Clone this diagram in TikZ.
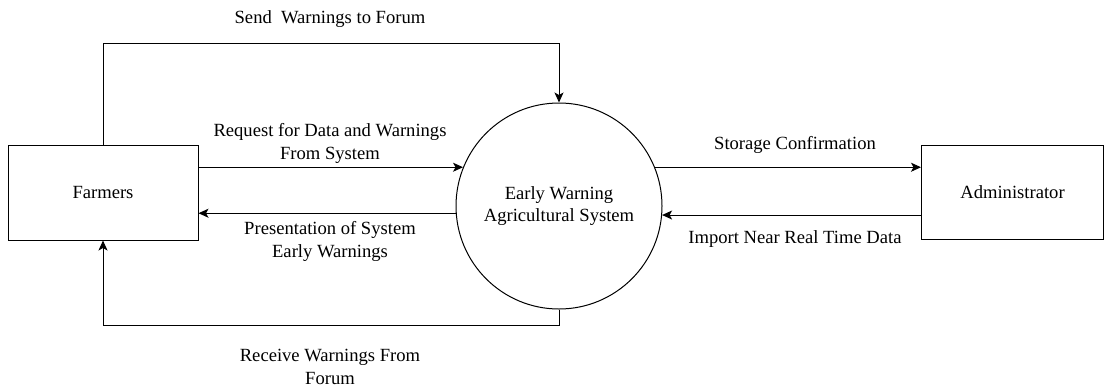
\documentclass[tikz,border=0pt]{standalone}
\usepackage{fontspec}
\setmainfont{Liberation Serif}
\usetikzlibrary{arrows.meta,calc}
\tikzset{
  ent/.style={draw, line width=1pt, rectangle, inner sep=0pt, font=\fontsize{18.6}{22}\selectfont},
  proc/.style={draw, line width=1pt, circle, inner sep=0pt, minimum size=206pt, align=center, font=\fontsize{18.6}{22}\selectfont},
  arr/.style={line width=1pt, -{Stealth[length=10pt,width=9pt,inset=2.5pt]}},
  lbl/.style={align=center, inner sep=0pt, font=\fontsize{18.6}{23}\selectfont}
}
\begin{document}
\begin{tikzpicture}[x=1pt,y=-1pt]
\useasboundingbox[fill=white] (0,0) rectangle (1111,389);
\node[ent, minimum width=190pt, minimum height=95pt] (farmers) at (103,192.5) {Farmers};
\node[ent, minimum width=182pt, minimum height=94pt] (admin) at (1012.5,192) {Administrator};
\node[proc] (sys) at (559,206) {Early Warning\\Agricultural System};
\coordinate (topc) at (559,43);
\coordinate (req) at (sys.158);
\coordinate (pres) at (sys.184);
\coordinate (stor) at (sys.22);
\coordinate (imp) at (sys.-5);
\draw[arr] (farmers.north) |- (topc) -- (sys.north);
\draw[arr] (farmers.east |- req) -- (req);
\draw[arr] (pres) -- (farmers.east |- pres);
\draw[arr] (stor) -- (admin.west |- stor);
\draw[arr] (admin.west |- imp) -- (imp);
\draw[arr] (sys.south) -- ++(0,16) -| (farmers.south);
\node[lbl] (l1) at (330,19) {Send~ Warnings to Forum};
\node[lbl] (l2) at (330,143) {Request for Data and Warnings\\From System};
\node[lbl] (l3) at (330,241) {Presentation of System\\Early Warnings};
\node[lbl] (l4) at (330,367) {Receive Warnings From\\Forum};
\node[lbl] (l5) at (795,145) {Storage Confirmation};
\node[lbl] (l6) at (795,239) {Import Near Real Time Data};
\end{tikzpicture}
\end{document}
